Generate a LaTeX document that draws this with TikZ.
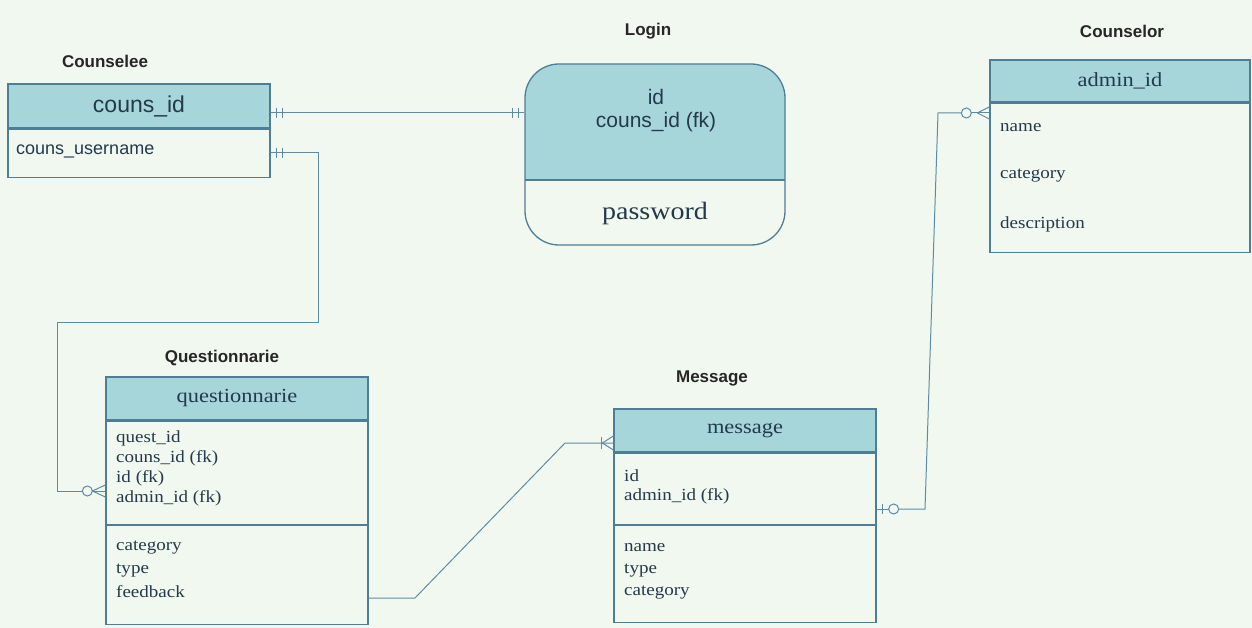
\documentclass[tikz,border=0pt]{standalone}
\usepackage{fontspec}
\setmainfont[FakeStretch=1.12]{Liberation Serif}
\setsansfont{Liberation Sans}
\definecolor{bgc}{HTML}{F1F8EF}
\definecolor{headc}{HTML}{A6D6D9}
\definecolor{edgec}{HTML}{4F7D96}
\definecolor{linec}{HTML}{5E8BA3}
\definecolor{txtc}{HTML}{24394A}
\begin{document}
\begin{tikzpicture}[x=1pt,y=-1pt,
  box/.style={draw=edgec, line width=1.3pt, inner sep=0pt, fill=bgc},
  hdr/.style={box, fill=headc, text=txtc},
  title/.style={font=\sffamily\bfseries\fontsize{17}{20}\selectfont, text=black!85},
  row/.style={anchor=west, inner sep=0pt, text=txtc, font=\fontsize{17}{20}\selectfont},
  conn/.style={draw=linec, line width=1pt},
]
\fill[bgc] (0,0) rectangle (1252,628);
\useasboundingbox (0,0) rectangle (1252,628);

% ---------- Counselee ----------
\node[title] (tcs) at (105,61) {Counselee};
\node[hdr, minimum width=262pt, minimum height=44pt, font=\sffamily\fontsize{23}{26}\selectfont] (cshead) at (139,106) {couns\_id};
\node[box, minimum width=262pt, minimum height=48pt, anchor=north] (csbody) at (cshead.south) {};
\node[row, font=\sffamily\fontsize{18}{21}\selectfont] (csr1) at (16,151) {couns\_username};

% ---------- Login ----------
\node[title] (tlg) at (648,31) {Login};
\begin{scope}
  \clip (520,60) rectangle (790,180);
  \fill[headc, rounded corners=34pt] (525,64) rectangle (785,245);
\end{scope}
\node[draw=edgec, line width=1.3pt, rounded corners=34pt, minimum width=260pt, minimum height=181pt, inner sep=0pt] (login) at (655,154.5) {};
\draw[draw=edgec, line width=1.3pt] (525,180) -- (785,180);
\node[inner sep=0pt, text=txtc, font=\sffamily\fontsize{21}{24}\selectfont] (lgid) at (656,97) {id};
\node[inner sep=0pt, text=txtc, font=\sffamily\fontsize{21}{24}\selectfont] (lgfk) at (656,122) {couns\_id (fk)};
\node[inner sep=0pt, text=txtc, font=\fontsize{25}{28}\selectfont] (lgpw) at (655,213) {password};

% ---------- Counselor ----------
\node[title] (tco) at (1122,31) {Counselor};
\node[hdr, minimum width=260pt, minimum height=42pt, font=\fontsize{20}{23}\selectfont] (cohead) at (1120,81) {admin\_id};
\node[box, minimum width=260pt, minimum height=149pt, anchor=north] (cobody) at (cohead.south) {};
\node[row] (cor1) at (1000,128) {name};
\node[row] (cor2) at (1000,176) {category};
\node[row] (cor3) at (1000,224) {description};

% ---------- Questionnarie ----------
\node[title] (tqu) at (222,358) {Questionnarie};
\node[hdr, minimum width=262pt, minimum height=43pt, font=\fontsize{20}{23}\selectfont] (quhead) at (237,398.5) {questionnarie};
\node[box, minimum width=262pt, minimum height=203pt, anchor=north] (qubody) at (quhead.south) {};
\draw[draw=edgec, line width=1.3pt] (qubody.west |- 0,525) -- (qubody.east |- 0,525);
\node[row] (qur1) at (116,438) {quest\_id};
\node[row] (qur2) at (116,458) {couns\_id (fk)};
\node[row] (qur3) at (116,478) {id (fk)};
\node[row] (qur4) at (116,498) {admin\_id (fk)};
\node[row] (qur5) at (116,548) {category};
\node[row] (qur6) at (116,571) {type};
\node[row] (qur7) at (116,592) {feedback};

% ---------- Message ----------
\node[title] (tme) at (712,378) {Message};
\node[hdr, minimum width=262pt, minimum height=43pt, font=\fontsize{20}{23}\selectfont] (mehead) at (745,430.5) {message};
\node[box, minimum width=262pt, minimum height=169pt, anchor=north] (mebody) at (mehead.south) {};
\draw[draw=edgec, line width=1.3pt] (mebody.west |- 0,525) -- (mebody.east |- 0,525);
\node[row] (mer1) at (624,476) {id};
\node[row] (mer2) at (624,496) {admin\_id (fk)};
\node[row] (mer3) at (624,548) {name};
\node[row] (mer4) at (624,571) {type};
\node[row] (mer5) at (624,593) {category};

% ---------- connector coordinates ----------
\coordinate (a1) at (cshead.east |- 0,113);
\coordinate (a2) at (login.west |- 0,113);
\coordinate (b1) at (csbody.east |- 0,153);
\coordinate (b2) at (qubody.west |- 0,491);
\coordinate (c1) at (qubody.east |- 0,598);
\coordinate (c2) at (mehead.west |- 0,443);
\coordinate (d1) at (mebody.east |- 0,509);
\coordinate (d2) at (cobody.west |- 0,113);

% Counselee -- Login (one and only one both ends)
\draw[conn] (a1) -- (a2);
\draw[conn] ([xshift=6pt,yshift=5pt]a1) -- ++(0,10);
\draw[conn] ([xshift=12pt,yshift=5pt]a1) -- ++(0,10);
\draw[conn] ([xshift=-6pt,yshift=5pt]a2) -- ++(0,10);
\draw[conn] ([xshift=-12pt,yshift=5pt]a2) -- ++(0,10);

% Counselee -- Questionnarie
\draw[conn] (b1) -- (318,153) -- (318,322) -- (57,322) -- (57,491) -- ([xshift=-23pt]b2);
\draw[conn] ([xshift=6pt,yshift=5pt]b1) -- ++(0,10);
\draw[conn] ([xshift=12pt,yshift=5pt]b1) -- ++(0,10);
\draw[conn, fill=bgc] ([xshift=-18pt]b2) circle (5pt);
\draw[conn] ([xshift=-13pt]b2) -- (b2);
\draw[conn] ([xshift=-13pt]b2) -- ([yshift=-6pt]b2);
\draw[conn] ([xshift=-13pt]b2) -- ([yshift=6pt]b2);

% Questionnarie -- Message
\draw[conn] (c1) -- (415,598) -- (565,443) -- (c2);
\draw[conn] ([xshift=-12pt,yshift=6pt]c2) -- ++(0,12);
\draw[conn] ([xshift=-11pt]c2) -- ([yshift=-7pt]c2);
\draw[conn] ([xshift=-11pt]c2) -- ([yshift=7pt]c2);

% Message -- Counselor
\draw[conn] ([xshift=22pt]d1) -- (925,509) -- (938,113) -- ([xshift=-28pt]d2);
\draw[conn] (d1) -- ([xshift=12pt]d1);
\draw[conn] ([xshift=6pt,yshift=5pt]d1) -- ++(0,10);
\draw[conn, fill=bgc] ([xshift=17pt]d1) circle (5pt);
\draw[conn, fill=bgc] ([xshift=-23pt]d2) circle (5pt);
\draw[conn] ([xshift=-18pt]d2) -- (d2);
\draw[conn] ([xshift=-12pt]d2) -- ([yshift=-6pt]d2);
\draw[conn] ([xshift=-12pt]d2) -- ([yshift=6pt]d2);
\end{tikzpicture}
\end{document}
